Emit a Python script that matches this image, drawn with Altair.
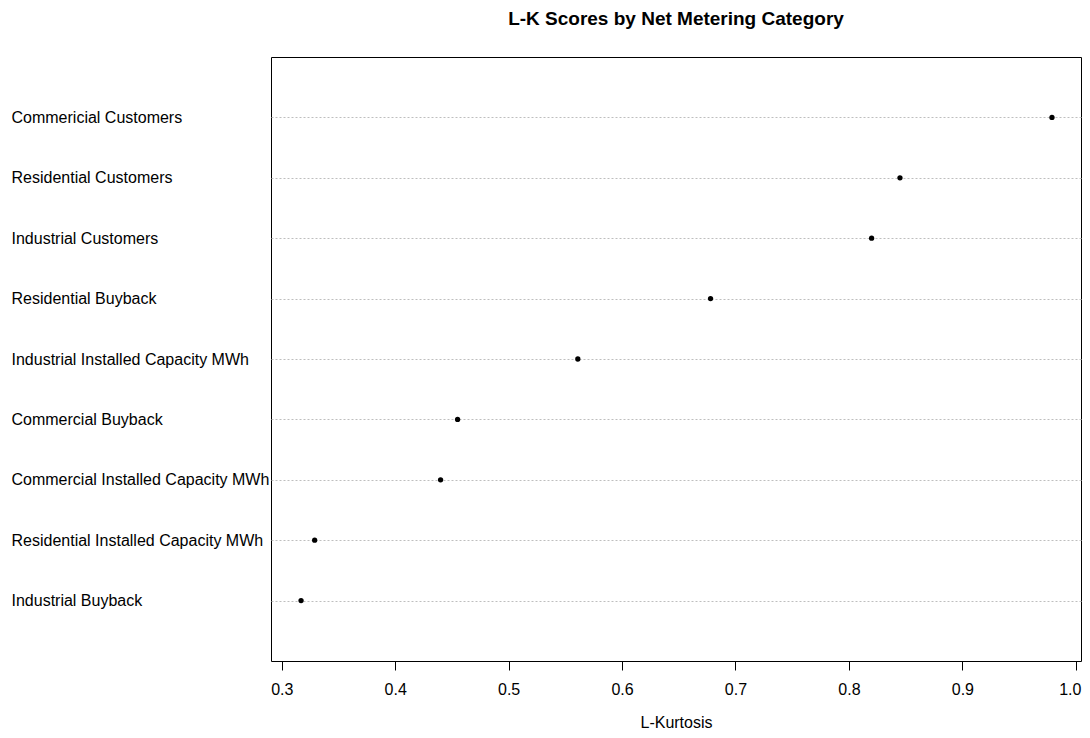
import altair as alt
import pandas as pd

categories = [
    "Commericial Customers",
    "Residential Customers",
    "Industrial Customers",
    "Residential Buyback",
    "Industrial Installed Capacity MWh",
    "Commercial Buyback",
    "Commercial Installed Capacity MWh",
    "Residential Installed Capacity MWh",
    "Industrial Buyback",
]
lk_scores = [0.979, 0.845, 0.820, 0.678, 0.561, 0.455, 0.440, 0.329, 0.317]
x_ticks = [0.3, 0.4, 0.5, 0.6, 0.7, 0.8, 0.9, 1.0]

df = pd.DataFrame({"category": categories, "score": lk_scores})

FONT = "Liberation Sans"

chart = (
    alt.Chart(df)
    .mark_circle(size=28, color="black", opacity=1)
    .encode(
        x=alt.X(
            "score:Q",
            scale=alt.Scale(domain=[0.2905, 1.0046], nice=False, zero=False),
            axis=alt.Axis(
                values=x_ticks,
                format=".1f",
                title="L-Kurtosis",
                grid=False,
                domain=False,
                tickSize=9,
                tickColor="black",
                labelPadding=11,
                labelOffset={"condition": {"test": "datum.value >= 0.99", "value": -6}, "value": 0},
                labelFontSize=16,
                labelFont=FONT,
                labelColor="black",
                labelFlush=False,
                titleFont=FONT,
                titleFontSize=16,
                titleFontWeight="normal",
                titleColor="black",
                titlePadding=17,
            ),
        ),
        y=alt.Y(
            "category:N",
            sort=categories,
            scale=alt.Scale(type="point", padding=1),
            axis=alt.Axis(
                title=None,
                ticks=False,
                tickSize=0,
                domain=False,
                labelAlign="left",
                labelPadding=260,
                labelLimit=400,
                labelFontSize=16,
                labelFont=FONT,
                labelColor="black",
                grid=True,
                gridColor="#BEBEBE",
                gridDash=[2, 2],
                gridWidth=1,
            ),
        ),
    )
    .properties(
        width=810,
        height=604,
        title=alt.TitleParams(
            "L-K Scores by Net Metering Category",
            font=FONT,
            fontSize=19,
            fontWeight="bold",
            color="black",
            anchor="middle",
            baseline="alphabetic",
            offset=13,
        ),
        autosize=alt.AutoSizeParams(type="none"),
        padding={"left": 263, "top": 49, "right": 1, "bottom": 69},
    )
    .configure_view(stroke="black", strokeWidth=1)
)

chart.save("out.html", embed_options={"renderer": "svg", "actions": False})
